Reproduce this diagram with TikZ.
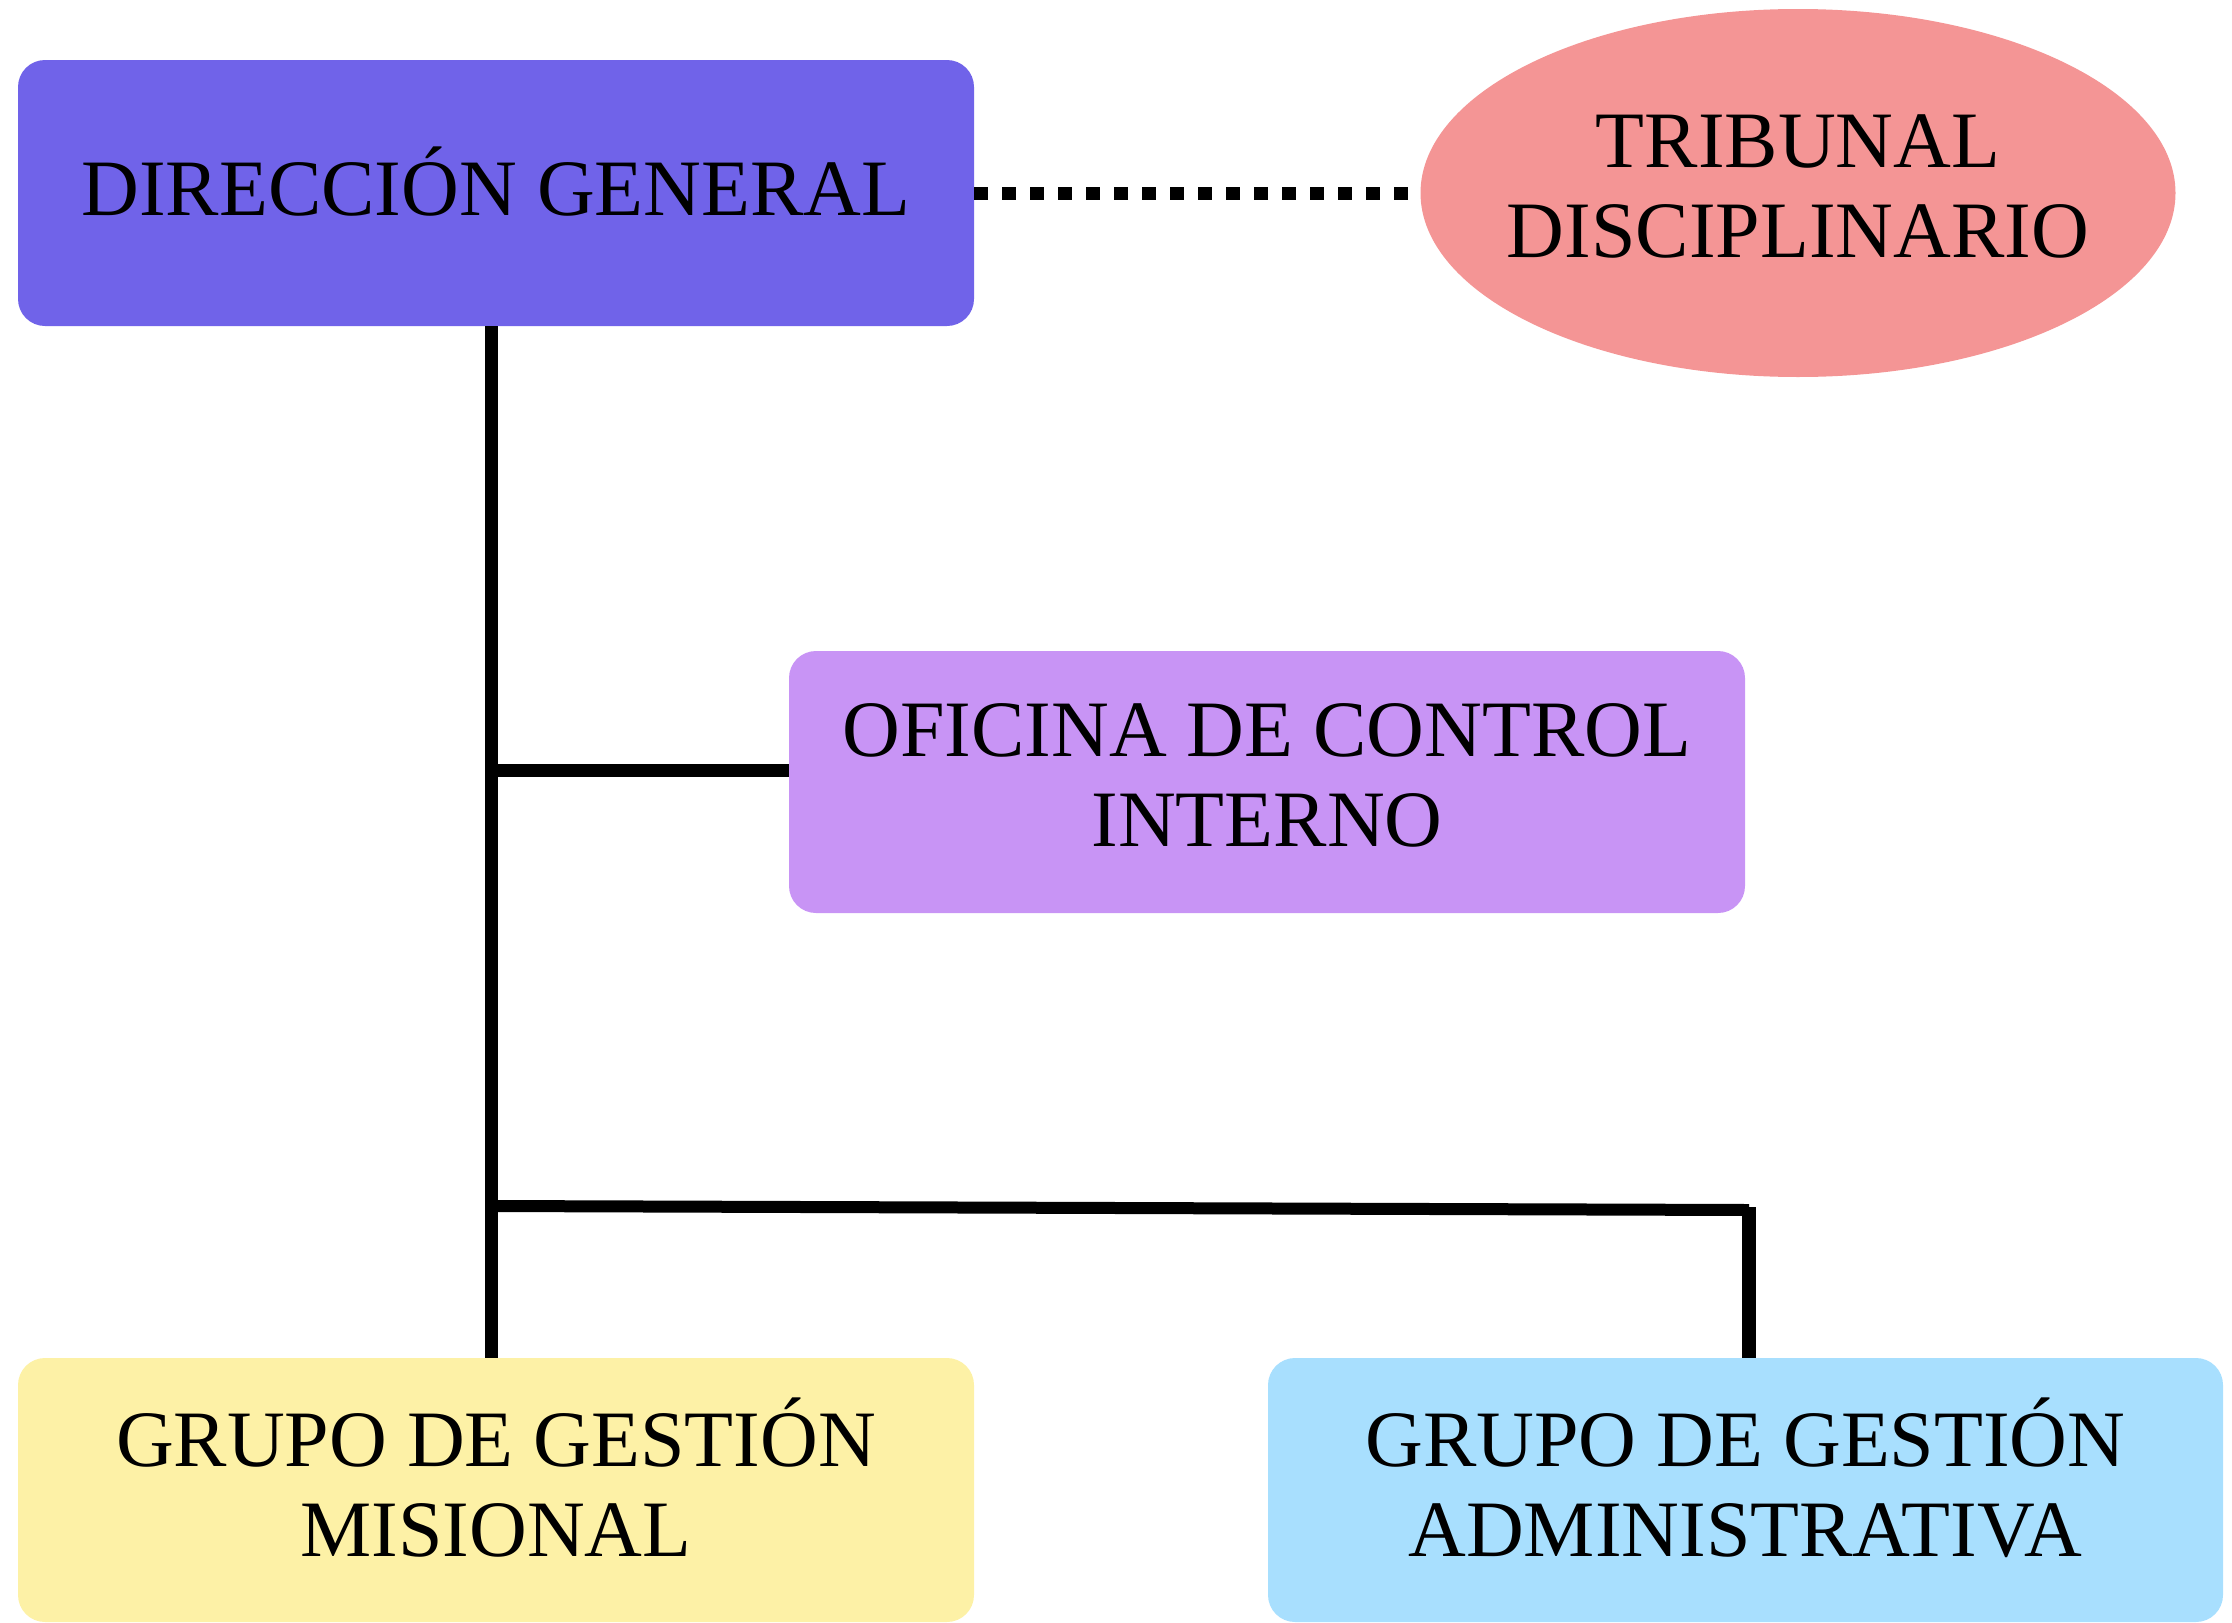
\documentclass[tikz,border=0pt]{standalone}
\usepackage{fontspec}
\setmainfont{Liberation Serif}
\usetikzlibrary{shapes.geometric}
\definecolor{cdir}{RGB}{112,99,233}
\definecolor{ctrib}{RGB}{244,149,149}
\definecolor{cofi}{RGB}{200,148,245}
\definecolor{cmis}{RGB}{253,241,166}
\definecolor{cadm}{RGB}{168,223,254}
\tikzset{
  unitbox/.style={rectangle, rounded corners=13.5pt, draw=none, minimum width=478pt, inner sep=0pt},
  lbl/.style={inner sep=0pt, align=center, font=\fontsize{40pt}{45pt}\selectfont},
  conn/.style={line width=6.5pt, draw=black},
}
\begin{document}
\begin{tikzpicture}[x=0.5pt,y=-0.5pt]
\useasboundingbox (0,0) rectangle (2232,1622);
\node[unitbox, fill=cdir, minimum height=133pt] (dir) at (496,193) {};
\node[lbl, yshift=5.5pt] (dirt) at (dir.center) {DIRECCIÓN GENERAL};
\node[ellipse, fill=ctrib, minimum width=377.5pt, minimum height=184pt, inner sep=0pt] (trib) at (1798,193) {};
\node[lbl, yshift=3.5pt] (tribt) at (trib.center) {TRIBUNAL\\DISCIPLINARIO};
\node[unitbox, fill=cofi, minimum height=131pt] (ofi) at (1267,782) {};
\node[lbl, yshift=3.5pt] (ofit) at (ofi.center) {OFICINA DE CONTROL\\INTERNO};
\node[unitbox, fill=cmis, minimum height=132pt] (mis) at (496,1490) {};
\node[lbl, yshift=6pt] (mist) at (mis.center) {GRUPO DE GESTIÓN\\MISIONAL};
\node[unitbox, fill=cadm, minimum height=132pt, minimum width=477.5pt] (adm) at (1745.5,1490) {};
\node[lbl, yshift=6pt] (admt) at (adm.center) {GRUPO DE GESTIÓN\\ADMINISTRATIVA};
% dotted link
\draw[line width=6.5pt, dash pattern=on 7pt off 7pt] (dir.east) -- (trib.west);
% trunk
\coordinate (tx) at (491,0);
\draw[conn] (tx |- dir.south) -- (tx |- mis.north);
\coordinate (b1) at (491,770);
\draw[conn] (b1) -- (b1 -| ofi.west);
\coordinate (b2) at (491,1206);
\coordinate (b3) at (1749,1210);
\draw[line width=6pt] (b2) -- (b3);
\draw[line width=7pt] ([yshift=1.5pt]b3) -- (b3 |- adm.north);
\end{tikzpicture}
\end{document}
